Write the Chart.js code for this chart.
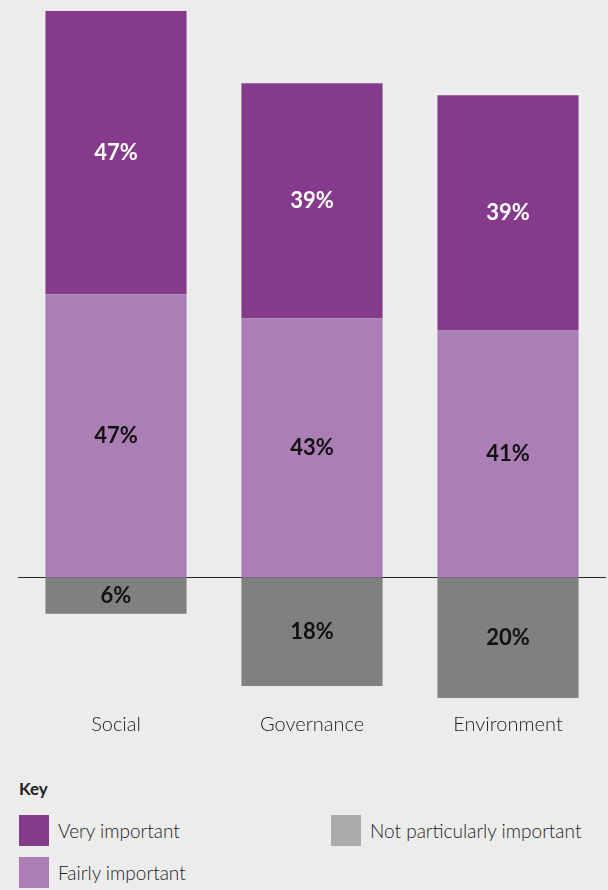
<!DOCTYPE html>
<html>
<head>
<meta charset="utf-8">
<script src="https://cdn.jsdelivr.net/npm/chart.js@4/dist/chart.umd.min.js"></script>
<style>
  html, body { margin: 0; padding: 0; background: #ececec; }
  body { width: 608px; height: 890px; position: relative; overflow: hidden; font-family: Lato, "Open Sans", sans-serif; color: #222; }
  #wrap { position: absolute; left: 0; top: 0; width: 608px; height: 748px; }
  .key-title { position: absolute; left: 19px; top: 778px; font-size: 17px; font-weight: 700; }
  .key-item { position: absolute; display: flex; align-items: center; font-size: 19px; font-weight: 300; }
  .key-item span.sw { display: inline-block; width: 30px; height: 31px; margin-right: 9px; }
</style>
</head>
<body>
<div id="wrap"><canvas id="myChart" width="608" height="748"></canvas></div>

<div class="key-title">Key</div>
<div class="key-item" style="left:19px; top:815px;"><span class="sw" style="background:#863a8c"></span>Very important</div>
<div class="key-item" style="left:331px; top:815px;"><span class="sw" style="background:#ababab"></span>Not particularly important</div>
<div class="key-item" style="left:19px; top:857px;"><span class="sw" style="background:#ab7fb5"></span>Fairly important</div>

<script>
var categories = ['Social', 'Governance', 'Environment'];
var veryImportant = [47, 39, 39];
var fairlyImportant = [47, 43, 41];
var notImportant = [-6, -18, -20];

// zero line under the bars, percentage labels on top
var barExtras = {
    id: 'barExtras',
    beforeDatasetsDraw: function (chart) {
        var c = chart.ctx, area = chart.chartArea;
        var y0 = Math.round(chart.scales.y.getPixelForValue(0)) + 0.5;
        c.save();
        c.strokeStyle = '#222';
        c.lineWidth = 1;
        c.beginPath();
        c.moveTo(area.left, y0);
        c.lineTo(area.right, y0);
        c.stroke();
        c.restore();
    },
    afterDatasetsDraw: function (chart) {
        var c = chart.ctx;
        c.save();
        c.font = '700 22px Lato, sans-serif';
        c.textAlign = 'center';
        c.textBaseline = 'middle';
        chart.data.datasets.forEach(function (ds, i) {
            var meta = chart.getDatasetMeta(i);
            meta.data.forEach(function (bar, j) {
                c.fillStyle = ds.labelColor;
                c.fillText(Math.abs(ds.data[j]) + '%', bar.x, (bar.y + bar.base) / 2);
            });
        });
        c.restore();
    }
};

var ctx = document.getElementById('myChart').getContext('2d');
var myChart = new Chart(ctx, {
    type: 'bar',
    data: {
        labels: categories,
        datasets: [{
            label: 'Fairly important',
            data: fairlyImportant,
            backgroundColor: '#ab7fb5',
            labelColor: '#111'
        }, {
            label: 'Very important',
            data: veryImportant,
            backgroundColor: '#863a8c',
            labelColor: '#fff'
        }, {
            label: 'Not particularly important',
            data: notImportant,
            backgroundColor: '#808080',
            labelColor: '#111'
        }]
    },
    options: {
        responsive: false,
        animation: false,
        layout: { padding: { top: 11, left: 18, right: 2, bottom: 4 } },
        datasets: { bar: { categoryPercentage: 1, barPercentage: 0.72, borderWidth: 0 } },
        plugins: {
            legend: { display: false },
            tooltip: { enabled: false }
        },
        scales: {
            x: {
                stacked: true,
                grid: { display: false },
                border: { display: false },
                ticks: {
                    color: '#222',
                    padding: 7,
                    font: { family: 'Lato', size: 20, weight: '300' }
                }
            },
            y: {
                stacked: true,
                display: false,
                min: -20,
                max: 94
            }
        }
    },
    plugins: [barExtras]
});
</script>
</body>
</html>
